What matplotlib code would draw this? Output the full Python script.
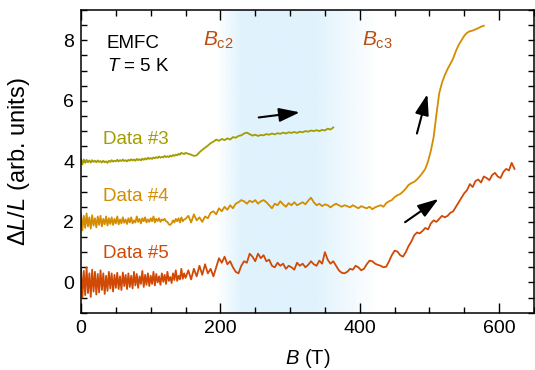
import numpy as np
import matplotlib
matplotlib.use("Agg")
import matplotlib.pyplot as plt
from matplotlib.ticker import MultipleLocator

plt.rcParams['font.family'] = ['Liberation Sans', 'DejaVu Sans']
plt.rcParams['mathtext.fontset'] = 'custom'
plt.rcParams['mathtext.rm'] = 'Liberation Sans'
plt.rcParams['mathtext.it'] = 'Liberation Sans:italic'
plt.rcParams['mathtext.bf'] = 'Liberation Sans:bold'

# ---- magnetostriction traces (ΔL/L, arb. units, offset) ----
# low-field part sampled every 2 T (0..148 T), high-field part every 4 T from 150 T
dl3_low = [4.08, 3.90, 4.06, 3.95, 4.05, 3.97, 4.03, 3.96, 4.04, 3.98,
           4.02, 3.97, 4.03, 3.98, 4.01, 3.96, 4.02, 3.97, 4.00, 3.95,
           4.02, 3.98, 4.04, 3.99, 4.02, 4.00, 4.05, 4.00, 4.04, 4.01,
           4.06, 4.01, 4.04, 4.00, 4.05, 4.02, 4.07, 4.03, 4.06, 4.02,
           4.08, 4.04, 4.07, 4.03, 4.09, 4.05, 4.10, 4.06, 4.12, 4.08,
           4.11, 4.08, 4.13, 4.10, 4.14, 4.11, 4.16, 4.12, 4.15, 4.13,
           4.18, 4.14, 4.17, 4.14, 4.19, 4.16, 4.21, 4.18, 4.22, 4.20,
           4.25, 4.22, 4.28, 4.26, 4.24]
dl3_high = [4.28, 4.25, 4.22, 4.18, 4.20, 4.30, 4.38, 4.45, 4.52, 4.60,
            4.65, 4.72, 4.68, 4.74, 4.70, 4.76, 4.72, 4.80, 4.78, 4.84,
            4.86, 4.92, 4.95, 4.90, 4.85, 4.88, 4.84, 4.87, 4.86, 4.90,
            4.88, 4.92, 4.89, 4.93, 4.91, 4.95, 4.92, 4.96, 4.94, 4.97,
            4.94, 4.98, 4.96, 5.00, 4.98, 5.02, 5.00, 5.03, 5.00, 5.04,
            5.02, 5.08, 5.05, 5.12]

dl4_low = [2.25, 1.72, 2.20, 1.80, 2.28, 1.85, 2.15, 1.78, 2.22, 1.88,
           2.12, 1.82, 2.18, 1.90, 2.20, 1.85, 2.10, 1.92, 2.18, 1.88,
           2.12, 1.93, 2.15, 1.90, 2.10, 1.95, 2.18, 1.92, 2.08, 1.95,
           2.15, 1.97, 2.08, 1.93, 2.12, 1.98, 2.15, 1.95, 2.05, 1.98,
           2.18, 2.00, 2.10, 1.95, 2.12, 2.02, 2.15, 1.98, 2.08, 2.00,
           2.12, 2.02, 2.18, 1.98, 2.10, 2.03, 2.12, 2.00, 2.08, 2.05,
           2.10, 2.02, 2.00, 1.92, 1.90, 1.95, 2.05, 1.98, 2.10, 2.02,
           2.12, 1.98, 2.15, 2.02, 2.08]
dl4_high = [2.10, 2.20, 1.98, 2.25, 2.05, 2.15, 2.00, 2.18, 2.12, 2.30,
            2.35, 2.25, 2.45, 2.35, 2.50, 2.40, 2.55, 2.45, 2.60, 2.65,
            2.72, 2.68, 2.60, 2.70, 2.65, 2.72, 2.60, 2.68, 2.72, 2.65,
            2.55, 2.45, 2.60, 2.55, 2.68, 2.58, 2.50, 2.62, 2.55, 2.65,
            2.55, 2.60, 2.65, 2.58, 2.70, 2.80, 2.65, 2.55, 2.60, 2.52,
            2.58, 2.55, 2.48, 2.55, 2.60, 2.55, 2.50, 2.55, 2.52, 2.48,
            2.55, 2.50, 2.45, 2.52, 2.48, 2.45, 2.50, 2.42, 2.48, 2.52,
            2.55, 2.50, 2.62, 2.68, 2.72, 2.82, 2.88, 2.92, 3.00, 3.10,
            3.22, 3.28, 3.32, 3.40, 3.50, 3.62, 3.75, 4.00, 4.35, 4.80,
            5.55, 6.25, 6.60, 6.85, 7.05, 7.22, 7.40, 7.65, 7.85, 8.00,
            8.15, 8.25, 8.30, 8.32, 8.36, 8.40, 8.45, 8.48]

dl5_low = [0.45, -0.50, 0.38, -0.42, 0.50, -0.35, 0.30, -0.48, 0.42, -0.30,
           0.35, -0.40, 0.28, -0.33, 0.40, -0.25, 0.30, -0.38, 0.22, -0.28,
           0.35, -0.20, 0.30, -0.30, 0.25, -0.18, 0.32, -0.22, 0.20, -0.25,
           0.33, -0.12, 0.25, -0.22, 0.30, -0.15, 0.22, -0.20, 0.35, -0.10,
           0.28, -0.18, 0.20, -0.05, 0.38, -0.15, 0.25, -0.08, 0.30, -0.12,
           0.22, -0.05, 0.35, -0.10, 0.28, 0.00, 0.20, -0.08, 0.30, 0.02,
           0.25, -0.05, 0.35, 0.05, 0.18, -0.02, 0.30, 0.08, 0.40, 0.05,
           0.22, 0.10, 0.45, 0.12, 0.30]
dl5_high = [0.15, 0.40, 0.10, 0.45, 0.20, 0.55, 0.25, 0.60, 0.30, 0.45,
            0.20, 0.50, 0.80, 0.65, 0.85, 0.60, 0.70, 0.50, 0.35, 0.30,
            0.55, 0.70, 0.65, 0.95, 0.85, 0.70, 0.95, 0.80, 0.90, 0.70,
            0.75, 0.55, 0.50, 0.65, 0.55, 0.62, 0.45, 0.55, 0.50, 0.42,
            0.65, 0.55, 0.62, 0.50, 0.58, 0.70, 0.60, 0.55, 0.72, 0.62,
            1.00, 0.75, 0.62, 0.70, 0.55, 0.40, 0.32, 0.30, 0.35, 0.45,
            0.42, 0.55, 0.50, 0.40, 0.45, 0.60, 0.72, 0.70, 0.62, 0.58,
            0.55, 0.50, 0.52, 0.70, 0.90, 1.05, 1.02, 0.90, 0.85, 1.00,
            1.20, 1.35, 1.55, 1.65, 1.62, 1.70, 1.80, 1.75, 1.95, 2.05,
            2.00, 2.10, 2.20, 2.15, 2.20, 2.30, 2.35, 2.50, 2.65, 2.80,
            2.95, 3.05, 3.25, 3.15, 3.35, 3.40, 3.30, 3.50, 3.45, 3.38,
            3.55, 3.62, 3.50, 3.45, 3.65, 3.75, 3.70, 3.95, 3.75]

labels = ["Data #3", "Data #4", "Data #5"]
colors = ["#A39C00", "#D48C00", "#D04A06"]
label_pos = [(31, 4.72), (31, 2.83), (31, 0.95)]

xticks = [0, 200, 400, 600]
yticks = [0, 2, 4, 6, 8]


def field_axis(n_low, n_high):
    """Field values for a trace: 2 T steps below 150 T, 4 T steps above."""
    return np.concatenate([2.0 * np.arange(n_low), 150.0 + 4.0 * np.arange(n_high)])


traces = [np.array(dl3_low + dl3_high), np.array(dl4_low + dl4_high),
          np.array(dl5_low + dl5_high)]
fields = [field_axis(len(dl3_low), len(dl3_high)),
          field_axis(len(dl4_low), len(dl4_high)),
          field_axis(len(dl5_low), len(dl5_high))]

fig = plt.figure(figsize=(5.35, 3.70), dpi=100)
ax = fig.add_axes([81 / 535, 1 - 312.7 / 370, 453 / 535, 302.7 / 370])

xmin, xmax, ymin, ymax = 0, 650, -1, 9
ax.set_xlim(xmin, xmax)
ax.set_ylim(ymin, ymax)

# light-blue band between Bc2 and Bc3 with soft edges
xs = np.linspace(xmin, xmax, 1300)
alpha = np.interp(xs, [195, 230, 335, 425], [0, 1, 1, 0])
band = np.zeros((2, xs.size, 4))
band[..., 0] = 0xE0 / 255
band[..., 1] = 0xF3 / 255
band[..., 2] = 0xFD / 255
band[..., 3] = alpha
ax.imshow(band, extent=[xmin, xmax, ymin, ymax], aspect='auto',
          origin='lower', zorder=0, interpolation='bilinear')

for B, y, c in zip(fields, traces, colors):
    ax.plot(B, y, color=c, lw=1.3, zorder=2, solid_joinstyle='round')

for lab, c, (x, y) in zip(labels, colors, label_pos):
    ax.text(x, y, lab, color=c, fontsize=13.5, va='center', ha='left')

ax.text(37, 7.88, "EMFC", fontsize=13.5, va='center', ha='left')
ax.text(37, 7.12, r"$\mathit{T}$ = 5 K", fontsize=13.5, va='center', ha='left')
bc_color = "#B94F12"
ax.text(175, 8.0, r"$\mathit{B}_{\mathrm{c2}}$", color=bc_color, fontsize=15,
        va='center', ha='left')
ax.text(403, 8.0, r"$\mathit{B}_{\mathrm{c3}}$", color=bc_color, fontsize=15,
        va='center', ha='left')

arrow_kw = dict(arrowstyle='-|>,head_length=0.9,head_width=0.3', color='black',
                lw=1.5, mutation_scale=14, shrinkA=0, shrinkB=0)
for tail, head in [((255, 5.45), (314, 5.62)),
                   ((482, 4.92), (497, 6.22)),
                   ((465, 1.99), (513, 2.76))]:
    ax.annotate("", xy=head, xytext=tail, arrowprops=arrow_kw, zorder=3)

ax.set_xticks(xticks)
ax.set_yticks(yticks)
ax.xaxis.set_minor_locator(MultipleLocator(50))
ax.yaxis.set_minor_locator(MultipleLocator(0.5))
ax.tick_params(which='both', direction='in', top=True, right=True,
               labelsize=14, width=1.0)
ax.tick_params(axis='x', which='major', length=7.5, pad=5)
ax.tick_params(axis='x', which='minor', length=4)
ax.tick_params(axis='y', which='both', length=4.3, pad=5)
for s in ax.spines.values():
    s.set_linewidth(1.1)

ax.set_xlabel(r"$\mathit{B}$ (T)", fontsize=14.5)
ax.set_ylabel(r"$\mathit{ΔL/L}$ (arb. units)", fontsize=17)
ax.xaxis.set_label_coords(0.5, -0.112)
ax.yaxis.set_label_coords(-0.108, 0.5)

fig.savefig("out.png", dpi=100)
